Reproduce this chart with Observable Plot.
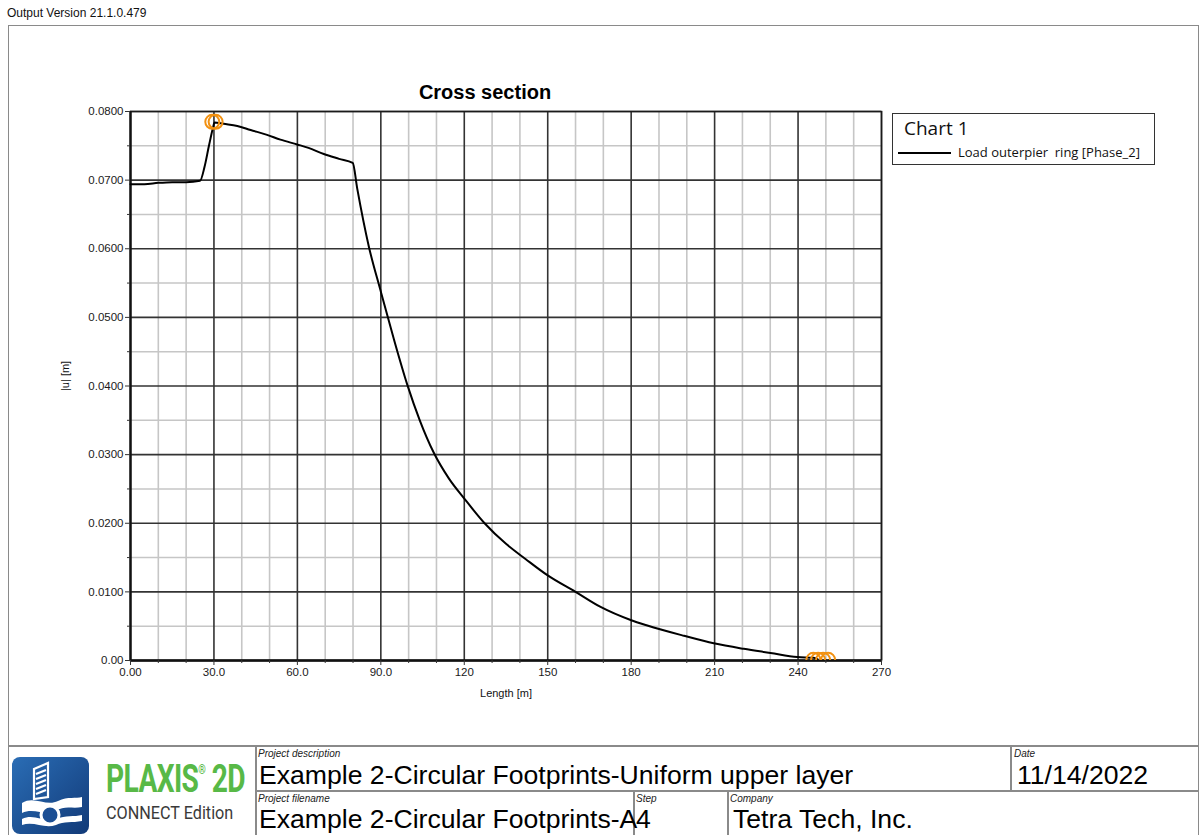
<!DOCTYPE html>
<html>
<head>
<meta charset="utf-8">
<script src="https://cdn.jsdelivr.net/npm/d3@7"></script>
<script src="https://cdn.jsdelivr.net/npm/@observablehq/plot@0.6"></script>
<style>
  html, body { margin: 0; padding: 0; background: #fff; }
  #page { position: relative; width: 1201px; height: 835px; overflow: hidden; background: #fff;
          font-family: "Liberation Sans", Arial, sans-serif; color: #111; }
  .abs { position: absolute; white-space: pre; }
  .line { position: absolute; background: #8a8a8a; }
  .small { font-style: italic; font-size: 10px; color: #222; }
  .big { font-size: 26.6px; color: #000; }
  #chart svg { overflow: visible; }
</style>
</head>
<body>
<div id="page">
  <div class="abs" style="left:7px; top:6px; font-size:12px;">Output Version 21.1.0.479</div>
  <!-- outer frame -->
  <div class="abs" style="left:8px; top:25px; width:1189px; height:820px; border:1.5px solid #8a8a8a;"></div>
  <div id="chart" class="abs" style="left:0; top:0;"></div>

  <!-- legend -->
  <div class="abs" style="left:892px; top:113px; width:261px; height:50px; border:1.5px solid #333; background:#fff;">
    <div class="abs" style="left:11px; top:1px; font-family:'Open Sans', sans-serif; font-size:19px; color:#111;" id="legendTitle"></div>
    <div class="abs" style="left:5px; top:38px; width:53px; height:2px; background:#000;"></div>
    <div class="abs" style="left:65px; top:29px; font-family:'Open Sans', sans-serif; font-size:13px; color:#111;" id="legendLabel"></div>
  </div>

  <!-- footer -->
  <div class="line" style="left:8px; top:745px; width:1190px; height:1.5px;"></div>
  <div class="line" style="left:255px; top:745px; width:1.5px; height:90px;"></div>
  <div class="line" style="left:1010px; top:745px; width:1.5px; height:45px;"></div>
  <div class="line" style="left:255px; top:790px; width:943px; height:1.5px;"></div>
  <div class="line" style="left:633px; top:790px; width:1.5px; height:45px;"></div>
  <div class="line" style="left:727px; top:790px; width:1.5px; height:45px;"></div>

  <svg class="abs" style="left:12px; top:757px;" width="77" height="77" viewBox="0 0 77 77">
    <defs>
      <linearGradient id="lg" x1="0" y1="0" x2="1" y2="1">
        <stop offset="0" stop-color="#2a6db5"/>
        <stop offset="1" stop-color="#123a78"/>
      </linearGradient>
    </defs>
    <rect x="0" y="0" width="77" height="77" rx="8" fill="url(#lg)"/>
    <g stroke="#fff" stroke-width="2.2" fill="none">
      <path d="M22 12 L36 6 L36 40 L22 42 Z"/>
      <path d="M24 17 L34 13 M24 22 L34 18 M24 27 L34 23 M24 32 L34 28 M24 37 L34 33"/>
    </g>
    <path d="M10 46 C22 38 34 50 46 44 C56 39 64 42 70 40 L70 50 C60 52 52 48 44 54 C34 60 22 50 10 56 Z" fill="#fff"/>
    <path d="M10 62 C22 56 32 66 44 62 C54 58 62 60 70 58 L70 64 C60 66 52 64 44 68 C32 72 22 64 10 68 Z" fill="#fff"/>
    <circle cx="38" cy="58" r="9" fill="#1c4f94" stroke="#fff" stroke-width="3"/>
  </svg>
  <div class="abs" style="left:106px; top:757px; font-family:Roboto, sans-serif; font-weight:bold; font-size:38px; color:#58b947; letter-spacing:-0.8px; transform:scaleX(0.74); transform-origin:left top;">PLAXIS<sup style="font-size:13px; vertical-align:18px;">®</sup> 2D</div>
  <div class="abs" style="left:106px; top:802px; font-family:Roboto, sans-serif; font-size:18px; color:#3a3a3a; transform:scaleX(0.9); transform-origin:left top;">CONNECT Edition</div>

  <div class="abs small" style="left:258px; top:748px;">Project description</div>
  <div class="abs big" style="left:259px; top:760px;">Example 2-Circular Footprints-Uniform upper layer</div>
  <div class="abs small" style="left:1014px; top:748px;">Date</div>
  <div class="abs big" style="left:1017px; top:760px;">11/14/2022</div>
  <div class="abs small" style="left:258px; top:793px;">Project filename</div>
  <div class="abs big" style="left:259px; top:804px;">Example 2-Circular Footprints-A</div>
  <div class="abs small" style="left:636px; top:793px;">Step</div>
  <div class="abs big" style="left:636px; top:804px;">4</div>
  <div class="abs small" style="left:730px; top:793px;">Company</div>
  <div class="abs big" style="left:733px; top:804px;">Tetra Tech, Inc.</div>
</div>
<script>
// ---- data ----
const chartTitle = "Cross section";
const xLabel = "Length [m]";
const yLabel = "|u| [m]";
const legendTitle = "Chart 1";
const seriesName = "Load outerpier  ring [Phase_2]";

const lengthM = [0, 5, 10, 15, 20, 25, 26.6, 28.2, 29.7, 30.2, 33.5, 38.4, 43.2, 49.1, 53.9, 59.9, 64, 69.5, 75, 79.9,
  81.5, 85.7, 89.9, 94.7, 99.5, 104, 109, 114.5, 120, 127.3, 135, 142, 150, 160, 169, 179.8, 185.8, 199, 209.7, 220.5,
  230.1, 239.7, 245.6, 247];
const displacement = [0.0694, 0.0694, 0.0696, 0.0697, 0.0697, 0.0699, 0.0719, 0.0750, 0.0777, 0.0784, 0.0782, 0.0779,
  0.0773, 0.0766, 0.0759, 0.0752, 0.0747, 0.0738, 0.0731, 0.0725, 0.0688, 0.0603, 0.0539, 0.0468, 0.0402, 0.0350,
  0.0303, 0.0265, 0.0236, 0.0200, 0.0170, 0.0148, 0.0124, 0.0100, 0.0078, 0.0059, 0.0051, 0.0036, 0.0025, 0.0017,
  0.0011, 0.0005, 0.0004, 0.0002];

const markerX = [29.4, 30.6, 245.5, 247.2, 249.0, 250.8];
const markerY = [0.0785, 0.0785, 0.0001, 0.0001, 0.0001, 0.0001];

const xMajor = [0, 30, 60, 90, 120, 150, 180, 210, 240, 270];
const xMajorLabels = ["0.00", "30.0", "60.0", "90.0", "120", "150", "180", "210", "240", "270"];
const xMinor = [10, 20, 40, 50, 70, 80, 100, 110, 130, 140, 160, 170, 190, 200, 220, 230, 250, 260];
const yMajor = [0, 0.01, 0.02, 0.03, 0.04, 0.05, 0.06, 0.07, 0.08];
const yMajorLabels = ["0.00", "0.0100", "0.0200", "0.0300", "0.0400", "0.0500", "0.0600", "0.0700", "0.0800"];
const yMinor = [0.005, 0.015, 0.025, 0.035, 0.045, 0.055, 0.065, 0.075];

// ---- build ----
document.getElementById("legendTitle").textContent = legendTitle;
document.getElementById("legendLabel").textContent = seriesName;

const curve = lengthM.map((x, i) => ({x, y: displacement[i]}));
const markers = markerX.map((x, i) => ({x, y: markerY[i]}));
const xLab = new Map(xMajor.map((v, i) => [v, xMajorLabels[i]]));
const yLab = new Map(yMajor.map((v, i) => [v, yMajorLabels[i]]));

const plot = Plot.plot({
  width: 890,
  height: 720,
  marginLeft: 130,
  marginRight: 9,
  marginTop: 111,
  marginBottom: 60,
  style: {background: "transparent", fontFamily: "'Liberation Sans', Arial, sans-serif", fontSize: "11.5px", color: "#1a1a1a"},
  x: {domain: [0, 270]},
  y: {domain: [0, 0.08]},
  marks: [
    Plot.gridX(xMinor, {stroke: "#c6c6c6", strokeOpacity: 1, strokeWidth: 1.6}),
    Plot.gridY(yMinor, {stroke: "#c6c6c6", strokeOpacity: 1, strokeWidth: 1.6}),
    Plot.gridX(xMajor, {stroke: "#333", strokeOpacity: 1, strokeWidth: 1.6}),
    Plot.gridY(yMajor, {stroke: "#333", strokeOpacity: 1, strokeWidth: 1.6}),
    Plot.frame({stroke: "#1a1a1a", strokeWidth: 1.5}),
    Plot.ruleY([0], {stroke: "#111", strokeWidth: 2.6}),
    Plot.ruleX([0], {stroke: "#111", strokeWidth: 2.2}),
    Plot.axisX(xMinor, {tickSize: 3, tickFormat: () => "", label: null, stroke: "#333"}),
    Plot.axisY(yMinor, {tickSize: 3, tickFormat: () => "", label: null, stroke: "#333"}),
    Plot.axisX(xMajor, {tickSize: 5, tickPadding: 2, tickFormat: d => xLab.get(d), label: null, stroke: "#333"}),
    Plot.axisY(yMajor, {tickSize: 5, tickPadding: 2, tickFormat: d => yLab.get(d), label: null, stroke: "#333"}),
    Plot.line(curve, {x: "x", y: "y", stroke: "#000", strokeWidth: 2, curve: "monotone-x"}),
    Plot.dot(markers, {x: "x", y: "y", r: 7, stroke: "#f29111", strokeWidth: 2, fill: "none", clip: true}),
    Plot.text([chartTitle], {frameAnchor: "top", dx: -21, dy: -27, fontSize: 20, fontWeight: "bold", fill: "#000"}),
    Plot.text([xLabel], {frameAnchor: "bottom", dy: 36, fontSize: 11, fill: "#111"}),
    Plot.text([yLabel], {frameAnchor: "left", dx: -65, dy: 5, rotate: -90, fontSize: 11, fill: "#111"})
  ]
});
document.getElementById("chart").appendChild(plot);
</script>
</body>
</html>
